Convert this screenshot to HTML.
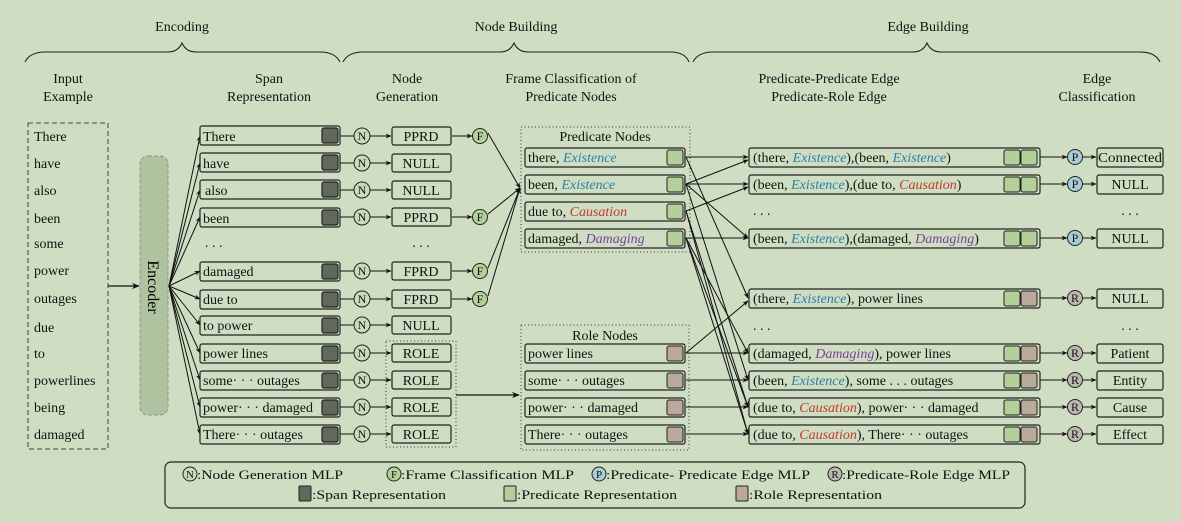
<!DOCTYPE html>
<html><head><meta charset="utf-8"><style>
html,body{margin:0;padding:0;background:#cfdec3}
svg{display:block}
svg text{font-family:"Liberation Serif","Times New Roman",Times,serif}
</style></head><body>
<svg width="1181" height="522" viewBox="0 0 1181 522" xmlns="http://www.w3.org/2000/svg" font-family="Liberation Serif, Times New Roman, serif">
<defs>
<marker id="a" viewBox="0 0 10 10" refX="9" refY="5" markerWidth="6" markerHeight="6" orient="auto"><path d="M0,1 L10,5 L0,9 L3,5z" fill="#111"/></marker>
</defs>
<rect width="1181" height="522" fill="#cfdec3"/>
<g fill="none" stroke="#222" stroke-width="1.1">
<path d="M25,62 Q30,52 45,52 L168,52 Q178,52 182,43 Q186,52 196,52 L320,52 Q335,52 340,62"/>
<path d="M343,62 Q348,52 363,52 L500,52 Q510,52 514,43 Q518,52 528,52 L670,52 Q685,52 689,62"/>
<path d="M693,62 Q698,52 713,52 L913,52 Q923,52 927,43 Q931,52 941,52 L1140,52 Q1155,52 1160,62"/>
</g>
<g font-size="14" fill="#111" text-anchor="middle">
<text x="182" y="31">Encoding</text>
<text x="516" y="31">Node Building</text>
<text x="928" y="31">Edge Building</text>
<text x="68" y="83">Input</text><text x="68" y="101">Example</text>
<text x="269" y="83">Span</text><text x="269" y="101">Representation</text>
<text x="407" y="83">Node</text><text x="407" y="101">Generation</text>
<text x="571" y="83">Frame Classification of</text><text x="571" y="101">Predicate Nodes</text>
<text x="829" y="83">Predicate-Predicate Edge</text><text x="829" y="101">Predicate-Role Edge</text>
<text x="1097" y="83">Edge</text><text x="1097" y="101">Classification</text>
</g>
<rect x="28" y="123" width="80" height="326" fill="none" stroke="#444" stroke-dasharray="5,3"/>
<g font-size="14" fill="#111">
<text x="34" y="141">There</text><text x="34" y="168">have</text><text x="34" y="195">also</text><text x="34" y="223">been</text><text x="34" y="248">some</text><text x="34" y="275">power</text><text x="34" y="303">outages</text><text x="34" y="332">due</text><text x="34" y="358">to</text><text x="34" y="385">powerlines</text><text x="34" y="412">being</text><text x="34" y="439">damaged</text>
</g>
<line x1="108" y1="286" x2="139" y2="286" stroke="#111" stroke-width="1.3" marker-end="url(#a)"/>
<rect x="140" y="156" width="28" height="259" rx="8" fill="#b0c3a0" stroke="#8a9a80" stroke-dasharray="4,2"/>
<text x="153" y="287" font-size="16" text-anchor="middle" transform="rotate(90 153 287)" dy="5">Encoder</text>
<g stroke="#111" stroke-width="1" marker-end="url(#a)">
<line x1="169" y1="286" x2="200" y2="136"/><line x1="169" y1="286" x2="200" y2="163"/><line x1="169" y1="286" x2="200" y2="190"/><line x1="169" y1="286" x2="200" y2="217"/><line x1="169" y1="286" x2="200" y2="271"/><line x1="169" y1="286" x2="200" y2="299"/><line x1="169" y1="286" x2="200" y2="325"/><line x1="169" y1="286" x2="200" y2="353"/><line x1="169" y1="286" x2="200" y2="380"/><line x1="169" y1="286" x2="200" y2="407"/><line x1="169" y1="286" x2="200" y2="434"/>
</g>
<g stroke="#222" stroke-width="1.2">
<g fill="#cfdec3">
<rect x="200" y="126" width="140" height="19" rx="2"/><rect x="200" y="153" width="140" height="19" rx="2"/><rect x="200" y="180" width="140" height="19" rx="2"/><rect x="200" y="208" width="140" height="19" rx="2"/><rect x="200" y="262" width="140" height="19" rx="2"/><rect x="200" y="290" width="140" height="19" rx="2"/><rect x="200" y="316" width="140" height="19" rx="2"/><rect x="200" y="344" width="140" height="19" rx="2"/><rect x="200" y="371" width="140" height="19" rx="2"/><rect x="200" y="398" width="140" height="19" rx="2"/><rect x="200" y="425" width="140" height="19" rx="2"/>
</g>
<g fill="#5f6a5c">
<rect x="322" y="128" width="16" height="15" rx="2"/><rect x="322" y="155" width="16" height="15" rx="2"/><rect x="322" y="182" width="16" height="15" rx="2"/><rect x="322" y="210" width="16" height="15" rx="2"/><rect x="322" y="264" width="16" height="15" rx="2"/><rect x="322" y="292" width="16" height="15" rx="2"/><rect x="322" y="318" width="16" height="15" rx="2"/><rect x="322" y="346" width="16" height="15" rx="2"/><rect x="322" y="373" width="16" height="15" rx="2"/><rect x="322" y="400" width="16" height="15" rx="2"/><rect x="322" y="427" width="16" height="15" rx="2"/>
</g>
</g>
<g font-size="14" fill="#111">
<text x="203" y="141">There</text><text x="203" y="168">have</text><text x="205" y="195">also</text><text x="203" y="223">been</text><text x="205" y="247">. . .</text><text x="203" y="276">damaged</text><text x="203" y="304">due to</text><text x="203" y="330">to power</text><text x="203" y="358">power lines</text><text x="203" y="385">some· · · outages</text><text x="203" y="412">power· · · damaged</text><text x="203" y="439">There· · · outages</text>
</g>
<g stroke="#111" stroke-width="1">
<line x1="340" y1="136" x2="354" y2="136"/><line x1="340" y1="163" x2="354" y2="163"/><line x1="340" y1="190" x2="354" y2="190"/><line x1="340" y1="217" x2="354" y2="217"/><line x1="340" y1="271" x2="354" y2="271"/><line x1="340" y1="299" x2="354" y2="299"/><line x1="340" y1="325" x2="354" y2="325"/><line x1="340" y1="353" x2="354" y2="353"/><line x1="340" y1="380" x2="354" y2="380"/><line x1="340" y1="407" x2="354" y2="407"/><line x1="340" y1="434" x2="354" y2="434"/>
</g>
<g stroke="#111" stroke-width="1" marker-end="url(#a)">
<line x1="370" y1="136" x2="391" y2="136"/><line x1="370" y1="163" x2="391" y2="163"/><line x1="370" y1="190" x2="391" y2="190"/><line x1="370" y1="217" x2="391" y2="217"/><line x1="370" y1="271" x2="391" y2="271"/><line x1="370" y1="299" x2="391" y2="299"/><line x1="370" y1="325" x2="391" y2="325"/><line x1="370" y1="353" x2="391" y2="353"/><line x1="370" y1="380" x2="391" y2="380"/><line x1="370" y1="407" x2="391" y2="407"/><line x1="370" y1="434" x2="391" y2="434"/>
<line x1="452" y1="136" x2="472" y2="136"/><line x1="452" y1="217" x2="472" y2="217"/><line x1="452" y1="271" x2="472" y2="271"/><line x1="452" y1="299" x2="472" y2="299"/>
<line x1="488" y1="133" x2="520" y2="188"/><line x1="488" y1="214" x2="520" y2="188"/><line x1="488" y1="268" x2="520" y2="188"/><line x1="488" y1="296" x2="520" y2="188"/>
<line x1="456" y1="395" x2="519" y2="395" stroke-width="1.3"/>
</g>
<g fill="#c9dcb8" stroke="#222" stroke-width="1">
<circle cx="362" cy="136" r="8"/><circle cx="362" cy="163" r="8"/><circle cx="362" cy="190" r="8"/><circle cx="362" cy="217" r="8"/><circle cx="362" cy="271" r="8"/><circle cx="362" cy="299" r="8"/><circle cx="362" cy="325" r="8"/><circle cx="362" cy="353" r="8"/><circle cx="362" cy="380" r="8"/><circle cx="362" cy="407" r="8"/><circle cx="362" cy="434" r="8"/>
</g>
<g fill="#b3d29b" stroke="#222" stroke-width="1">
<circle cx="480" cy="136" r="7.5"/><circle cx="480" cy="217" r="7.5"/><circle cx="480" cy="271" r="7.5"/><circle cx="480" cy="299" r="7.5"/>
</g>
<g font-size="12" fill="#111" text-anchor="middle">
<text x="362" y="140">N</text><text x="362" y="167">N</text><text x="362" y="194">N</text><text x="362" y="221">N</text><text x="362" y="275">N</text><text x="362" y="303">N</text><text x="362" y="329">N</text><text x="362" y="357">N</text><text x="362" y="384">N</text><text x="362" y="411">N</text><text x="362" y="438">N</text>
<text x="480" y="140">F</text><text x="480" y="221">F</text><text x="480" y="275">F</text><text x="480" y="303">F</text>
</g>
<rect x="386" y="341" width="70" height="106" fill="none" stroke="#333" stroke-dasharray="1,2.5"/>
<g fill="none" stroke="#222" stroke-width="1.2">
<rect x="392" y="127" width="59" height="18" rx="2"/><rect x="392" y="154" width="59" height="18" rx="2"/><rect x="392" y="181" width="59" height="18" rx="2"/><rect x="392" y="208" width="59" height="18" rx="2"/><rect x="392" y="262" width="59" height="18" rx="2"/><rect x="392" y="290" width="59" height="18" rx="2"/><rect x="392" y="316" width="59" height="18" rx="2"/><rect x="392" y="344" width="59" height="18" rx="2"/><rect x="392" y="371" width="59" height="18" rx="2"/><rect x="392" y="398" width="59" height="18" rx="2"/><rect x="392" y="425" width="59" height="18" rx="2"/>
</g>
<g font-size="14" fill="#111" text-anchor="middle">
<text x="421" y="141">PPRD</text><text x="421" y="168">NULL</text><text x="421" y="195">NULL</text><text x="421" y="222">PPRD</text><text x="421" y="247">. . .</text><text x="421" y="276">FPRD</text><text x="421" y="304">FPRD</text><text x="421" y="330">NULL</text><text x="421" y="358">ROLE</text><text x="421" y="385">ROLE</text><text x="421" y="412">ROLE</text><text x="421" y="439">ROLE</text>
</g>
<rect x="521" y="127" width="169" height="125" fill="none" stroke="#333" stroke-dasharray="1,2.5"/>
<rect x="521" y="325" width="168" height="125" fill="none" stroke="#333" stroke-dasharray="1,2.5"/>
<g font-size="14" fill="#111" text-anchor="middle"><text x="605" y="141">Predicate Nodes</text><text x="605" y="340">Role Nodes</text></g>
<g fill="#cfdec3" stroke="#222" stroke-width="1.2">
<rect x="525" y="148" width="160" height="19" rx="2"/><rect x="525" y="175" width="160" height="19" rx="2"/><rect x="525" y="202" width="160" height="19" rx="2"/><rect x="525" y="229" width="160" height="19" rx="2"/>
<rect x="525" y="344" width="160" height="19" rx="2"/><rect x="525" y="371" width="160" height="19" rx="2"/><rect x="525" y="398" width="160" height="19" rx="2"/><rect x="525" y="425" width="160" height="19" rx="2"/>
</g>
<g stroke="#222" stroke-width="1">
<g fill="#b3cf9a"><rect x="667" y="150" width="16" height="15" rx="2"/><rect x="667" y="177" width="16" height="15" rx="2"/><rect x="667" y="204" width="16" height="15" rx="2"/><rect x="667" y="231" width="16" height="15" rx="2"/></g>
<g fill="#b9aa9a"><rect x="667" y="346" width="16" height="15" rx="2"/><rect x="667" y="373" width="16" height="15" rx="2"/><rect x="667" y="400" width="16" height="15" rx="2"/><rect x="667" y="427" width="16" height="15" rx="2"/></g>
</g>
<g font-size="14" fill="#111">
<text x="528" y="162">there, <tspan fill="#2a7fa8" font-style="italic">Existence</tspan></text>
<text x="528" y="189">been, <tspan fill="#2a7fa8" font-style="italic">Existence</tspan></text>
<text x="528" y="216">due to, <tspan fill="#c0392b" font-style="italic">Causation</tspan></text>
<text x="528" y="243">damaged, <tspan fill="#7b3f98" font-style="italic">Damaging</tspan></text>
<text x="528" y="358">power lines</text><text x="528" y="385">some· · · outages</text><text x="528" y="412">power· · · damaged</text><text x="528" y="439">There· · · outages</text>
</g>
<g stroke="#111" stroke-width="1" marker-end="url(#a)">
<line x1="686" y1="157" x2="748" y2="157"/><line x1="686" y1="157" x2="748" y2="298"/>
<line x1="686" y1="184" x2="748" y2="160"/><line x1="686" y1="184" x2="748" y2="184"/><line x1="686" y1="184" x2="748" y2="238"/><line x1="686" y1="184" x2="748" y2="380"/>
<line x1="686" y1="211" x2="748" y2="187"/><line x1="686" y1="211" x2="748" y2="407"/><line x1="686" y1="211" x2="748" y2="434"/>
<line x1="686" y1="238" x2="748" y2="238"/><line x1="686" y1="238" x2="748" y2="353"/><line x1="686" y1="238" x2="748" y2="407"/><line x1="686" y1="238" x2="748" y2="434"/>
<line x1="686" y1="353" x2="748" y2="301"/><line x1="686" y1="353" x2="748" y2="353"/><line x1="686" y1="380" x2="748" y2="380"/><line x1="686" y1="407" x2="748" y2="407"/><line x1="686" y1="434" x2="748" y2="434"/>
</g>
<g fill="#cfdec3" stroke="#222" stroke-width="1.2">
<rect x="749" y="148" width="291" height="19" rx="2"/><rect x="749" y="175" width="291" height="19" rx="2"/><rect x="749" y="229" width="291" height="19" rx="2"/><rect x="749" y="289" width="291" height="19" rx="2"/><rect x="749" y="344" width="291" height="19" rx="2"/><rect x="749" y="371" width="291" height="19" rx="2"/><rect x="749" y="398" width="291" height="19" rx="2"/><rect x="749" y="425" width="291" height="19" rx="2"/>
<rect x="1097" y="148" width="66" height="19" rx="2"/><rect x="1097" y="175" width="66" height="19" rx="2"/><rect x="1097" y="229" width="66" height="19" rx="2"/><rect x="1097" y="289" width="66" height="19" rx="2"/><rect x="1097" y="344" width="66" height="19" rx="2"/><rect x="1097" y="371" width="66" height="19" rx="2"/><rect x="1097" y="398" width="66" height="19" rx="2"/><rect x="1097" y="425" width="66" height="19" rx="2"/>
</g>
<g stroke="#222" stroke-width="1">
<g fill="#b3cf9a">
<rect x="1004" y="150" width="16" height="15" rx="2"/><rect x="1021" y="150" width="16" height="15" rx="2"/>
<rect x="1004" y="177" width="16" height="15" rx="2"/><rect x="1021" y="177" width="16" height="15" rx="2"/>
<rect x="1004" y="231" width="16" height="15" rx="2"/><rect x="1021" y="231" width="16" height="15" rx="2"/>
<rect x="1004" y="291" width="16" height="15" rx="2"/><rect x="1004" y="346" width="16" height="15" rx="2"/><rect x="1004" y="373" width="16" height="15" rx="2"/><rect x="1004" y="400" width="16" height="15" rx="2"/><rect x="1004" y="427" width="16" height="15" rx="2"/>
</g>
<g fill="#b9aa9a">
<rect x="1021" y="291" width="16" height="15" rx="2"/><rect x="1021" y="346" width="16" height="15" rx="2"/><rect x="1021" y="373" width="16" height="15" rx="2"/><rect x="1021" y="400" width="16" height="15" rx="2"/><rect x="1021" y="427" width="16" height="15" rx="2"/>
</g>
</g>
<g font-size="14" fill="#111">
<text x="753" y="162">(there, <tspan fill="#2a7fa8" font-style="italic">Existence</tspan>),(been, <tspan fill="#2a7fa8" font-style="italic">Existence</tspan>)</text>
<text x="753" y="189">(been, <tspan fill="#2a7fa8" font-style="italic">Existence</tspan>),(due to, <tspan fill="#c0392b" font-style="italic">Causation</tspan>)</text>
<text x="753" y="215">. . .</text>
<text x="753" y="243">(been, <tspan fill="#2a7fa8" font-style="italic">Existence</tspan>),(damaged, <tspan fill="#7b3f98" font-style="italic">Damaging</tspan>)</text>
<text x="753" y="303">(there, <tspan fill="#2a7fa8" font-style="italic">Existence</tspan>), power lines</text>
<text x="753" y="330">. . .</text>
<text x="753" y="358">(damaged, <tspan fill="#7b3f98" font-style="italic">Damaging</tspan>), power lines</text>
<text x="753" y="385">(been, <tspan fill="#2a7fa8" font-style="italic">Existence</tspan>), some . . . outages</text>
<text x="753" y="412">(due to, <tspan fill="#c0392b" font-style="italic">Causation</tspan>), power· · · damaged</text>
<text x="753" y="439">(due to, <tspan fill="#c0392b" font-style="italic">Causation</tspan>), There· · · outages</text>
</g>
<g stroke="#111" stroke-width="1" marker-end="url(#a)">
<line x1="1040" y1="157" x2="1067" y2="157"/><line x1="1040" y1="184" x2="1067" y2="184"/><line x1="1040" y1="238" x2="1067" y2="238"/><line x1="1040" y1="298" x2="1067" y2="298"/><line x1="1040" y1="353" x2="1067" y2="353"/><line x1="1040" y1="380" x2="1067" y2="380"/><line x1="1040" y1="407" x2="1067" y2="407"/><line x1="1040" y1="434" x2="1067" y2="434"/>
<line x1="1083" y1="157" x2="1096" y2="157"/><line x1="1083" y1="184" x2="1096" y2="184"/><line x1="1083" y1="238" x2="1096" y2="238"/><line x1="1083" y1="298" x2="1096" y2="298"/><line x1="1083" y1="353" x2="1096" y2="353"/><line x1="1083" y1="380" x2="1096" y2="380"/><line x1="1083" y1="407" x2="1096" y2="407"/><line x1="1083" y1="434" x2="1096" y2="434"/>
</g>
<g stroke="#222" stroke-width="1">
<g fill="#a9cdd6"><circle cx="1075" cy="157" r="7.5"/><circle cx="1075" cy="184" r="7.5"/><circle cx="1075" cy="238" r="7.5"/></g>
<g fill="#bdb8b2"><circle cx="1075" cy="298" r="7.5"/><circle cx="1075" cy="353" r="7.5"/><circle cx="1075" cy="380" r="7.5"/><circle cx="1075" cy="407" r="7.5"/><circle cx="1075" cy="434" r="7.5"/></g>
</g>
<g font-size="12" fill="#111" text-anchor="middle">
<text x="1075" y="161">P</text><text x="1075" y="188">P</text><text x="1075" y="242">P</text><text x="1075" y="302">R</text><text x="1075" y="357">R</text><text x="1075" y="384">R</text><text x="1075" y="411">R</text><text x="1075" y="438">R</text>
</g>
<g font-size="14" fill="#111" text-anchor="middle">
<text x="1130" y="162" textLength="64" lengthAdjust="spacingAndGlyphs">Connected</text><text x="1130" y="189">NULL</text><text x="1130" y="215">. . .</text><text x="1130" y="243">NULL</text><text x="1130" y="303">NULL</text><text x="1130" y="330">. . .</text><text x="1130" y="358">Patient</text><text x="1130" y="385">Entity</text><text x="1130" y="412">Cause</text><text x="1130" y="439">Effect</text>
</g>
<rect x="165" y="462" width="860" height="46" rx="6" fill="none" stroke="#222" stroke-width="1.2"/>
<g stroke="#222" stroke-width="1">
<circle cx="190" cy="474" r="7" fill="#c9dcb8"/><circle cx="394" cy="474" r="7" fill="#b3d29b"/><circle cx="599" cy="474" r="7" fill="#a9cdd6"/><circle cx="835" cy="474" r="7" fill="#bdb8b2"/>
<rect x="299" y="486" width="12" height="15" rx="1" fill="#5f6a5c"/><rect x="504" y="486" width="12" height="15" rx="1" fill="#b3cf9a"/><rect x="736" y="486" width="12" height="15" rx="1" fill="#b9aa9a"/>
</g>
<g font-size="11" fill="#111" text-anchor="middle"><text x="190" y="478">N</text><text x="394" y="478">F</text><text x="599" y="478">P</text><text x="835" y="478">R</text></g>
<g font-size="13" fill="#111">
<text x="197" y="479" textLength="146" lengthAdjust="spacingAndGlyphs">:Node Generation MLP</text>
<text x="401" y="479" textLength="173" lengthAdjust="spacingAndGlyphs">:Frame Classification MLP</text>
<text x="606" y="479" textLength="204" lengthAdjust="spacingAndGlyphs">:Predicate- Predicate Edge MLP</text>
<text x="842" y="479" textLength="168" lengthAdjust="spacingAndGlyphs">:Predicate-Role Edge MLP</text>
<text x="312" y="499" textLength="134" lengthAdjust="spacingAndGlyphs">:Span Representation</text>
<text x="517" y="499" textLength="160" lengthAdjust="spacingAndGlyphs">:Predicate Representation</text>
<text x="749" y="499" textLength="133" lengthAdjust="spacingAndGlyphs">:Role Representation</text>
</g>
</svg>
</body></html>
